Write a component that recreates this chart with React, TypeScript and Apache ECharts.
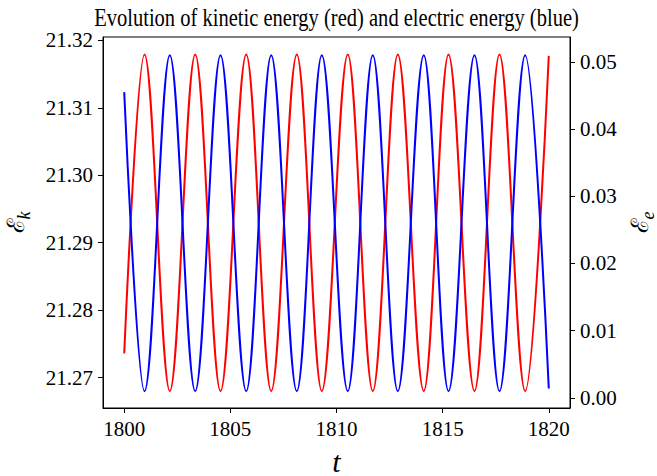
import React, { useEffect, useRef } from "react";
import * as echarts from "echarts";

// Sample times: start, alternating extrema of the oscillation, end
const tSamples = [
  1800, 1800.956, 1802.148, 1803.344, 1804.536, 1805.747, 1806.924, 1808.13,
  1809.308, 1810.532, 1811.71, 1812.888, 1814.112, 1815.276, 1816.5, 1817.678,
  1818.888, 1820,
];

// Kinetic energy (red, left axis)
const kineticEnergy = [
  21.2736, 21.3179, 21.268, 21.3179, 21.268, 21.3179, 21.268, 21.3179, 21.268,
  21.3179, 21.268, 21.3179, 21.268, 21.3179, 21.268, 21.3179, 21.268, 21.3177,
];

// Electric energy (blue, right axis)
const electricEnergy = [
  0.0455, 0.001, 0.051, 0.001, 0.051, 0.001, 0.051, 0.001, 0.051, 0.001, 0.051,
  0.001, 0.051, 0.001, 0.051, 0.001, 0.051, 0.0014,
];

const timeTicks = [1800, 1805, 1810, 1815, 1820];
const kineticTicks = [21.27, 21.28, 21.29, 21.3, 21.31, 21.32];
const electricTicks = [0, 0.01, 0.02, 0.03, 0.04, 0.05];

const titleText = "Evolution of kinetic energy (red) and electric energy (blue)";

const SERIF = "Liberation Serif";
const SCRIPT = "DejaVu Serif";

export default function App() {
  const ref = useRef<HTMLDivElement>(null);

  useEffect(() => {
    const chart = echarts.init(ref.current!, null, { renderer: "svg" });

    const tickLabel = {
      fontFamily: SERIF,
      fontSize: 21,
      color: "#000",
    };

    const nameRich = {
      e: {
        fontFamily: SCRIPT,
        fontSize: 24,
        color: "#000",
        verticalAlign: "bottom",
        padding: [0, 0, 5, 0],
      },
      s: {
        fontFamily: SERIF,
        fontStyle: "italic",
        fontSize: 18,
        color: "#000",
        verticalAlign: "bottom",
      },
    };

    chart.setOption({
      animation: false,
      backgroundColor: "#fff",
      grid: {
        left: 103,
        right: 87,
        top: 37,
        bottom: 68,
        containLabel: false,
        outerBoundsMode: "none",
        show: true,
        borderColor: "#000",
        borderWidth: 1,
        backgroundColor: "transparent",
      },
      graphic: [
        {
          type: "text",
          x: 336.5,
          y: 17,
          scaleX: 0.79,
          style: {
            text: titleText,
            fontFamily: SERIF,
            fontSize: 26,
            fill: "#000",
            align: "center",
            verticalAlign: "middle",
          },
        },
      ],
      xAxis: {
        type: "value",
        min: 1799,
        max: 1821,
        name: "t",
        nameLocation: "middle",
        nameGap: 38,
        nameTextStyle: {
          fontFamily: SERIF,
          fontStyle: "italic",
          fontSize: 30,
          color: "#000",
        },
        axisLine: { show: true, onZero: false, lineStyle: { color: "#000", width: 1 } },
        axisTick: {
          show: true,
          customValues: timeTicks,
          length: 5,
          lineStyle: { color: "#000", width: 1 },
        },
        axisLabel: {
          ...tickLabel,
          customValues: timeTicks,
          margin: 10,
          formatter: (v: number) => String(Math.round(v)),
        },
        splitLine: { show: false },
      },
      yAxis: [
        {
          type: "value",
          position: "left",
          min: 21.2655,
          max: 21.3205,
          name: "{e|ℰ}{s|k}",
          nameLocation: "middle",
          nameRotate: 90,
          nameGap: 70,
          nameTextStyle: { rich: nameRich },
          axisLine: { show: true, onZero: false, lineStyle: { color: "#000", width: 1 } },
          axisTick: {
            show: true,
            customValues: kineticTicks,
            length: 5,
            lineStyle: { color: "#000", width: 1 },
          },
          axisLabel: {
            ...tickLabel,
            customValues: kineticTicks,
            margin: 10,
            formatter: (v: number) => v.toFixed(2),
          },
          splitLine: { show: false },
        },
        {
          type: "value",
          position: "right",
          min: -0.0015,
          max: 0.0537,
          name: "{e|ℰ}{s|e}",
          nameLocation: "middle",
          nameRotate: 90,
          nameGap: 56,
          nameTextStyle: { rich: nameRich },
          axisLine: { show: true, onZero: false, lineStyle: { color: "#000", width: 1 } },
          axisTick: {
            show: true,
            customValues: electricTicks,
            length: 5,
            lineStyle: { color: "#000", width: 1 },
          },
          axisLabel: {
            ...tickLabel,
            customValues: electricTicks,
            margin: 10,
            formatter: (v: number) => v.toFixed(2),
          },
          splitLine: { show: false },
        },
      ],
      series: [
        {
          name: "kinetic",
          type: "line",
          yAxisIndex: 0,
          data: tSamples.map((t, i) => [t, kineticEnergy[i]]),
          smooth: 0.36,
          smoothMonotone: "x",
          showSymbol: false,
          symbol: "none",
          lineStyle: { color: "#ff0000", width: 2 },
          itemStyle: { color: "#ff0000" },
        },
        {
          name: "electric",
          type: "line",
          yAxisIndex: 1,
          data: tSamples.map((t, i) => [t, electricEnergy[i]]),
          smooth: 0.36,
          smoothMonotone: "x",
          showSymbol: false,
          symbol: "none",
          lineStyle: { color: "#0000ff", width: 2 },
          itemStyle: { color: "#0000ff" },
        },
      ],
    });

    return () => chart.dispose();
  }, []);

  return (
    <div
      ref={ref}
      style={{
        position: "fixed",
        left: 0,
        top: 0,
        width: 657,
        height: 476,
        background: "#fff",
      }}
    />
  );
}
